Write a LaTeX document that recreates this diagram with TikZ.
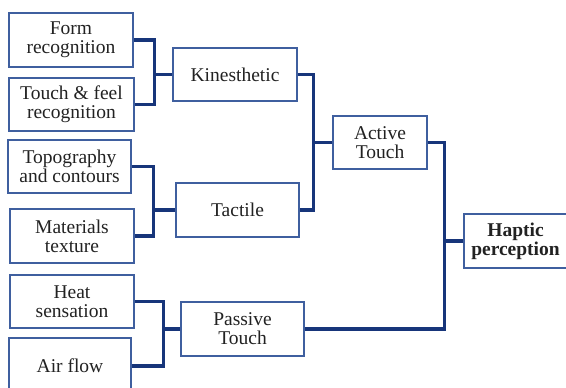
\documentclass[tikz,border=0pt]{standalone}
\usepackage{fontspec}
\setmainfont{Liberation Serif}
\usepackage{xcolor}
\definecolor{boxblue}{HTML}{3F5F9F}
\definecolor{linknavy}{HTML}{17357A}
\definecolor{txtgray}{HTML}{222222}

\begin{document}
\begin{tikzpicture}[x=1pt, y=-1pt,
  box/.style={draw=boxblue, line width=1.5pt, fill=white, align=center, inner sep=0pt,
    text=txtgray, font=\fontsize{19.5}{19}\selectfont},
  link/.style={draw=linknavy, line width=3.2pt}]
\useasboundingbox (0,0) rectangle (566,388);
% Hojas
\node[box, minimum width=124, minimum height=54] (form) at (71,40) {Form\\recognition};
\node[box, minimum width=125, minimum height=53] (feel) at (71.5,104.5) {Touch \& feel\\recognition};
\node[box, minimum width=123, minimum height=53] (topo) at (69.5,166.5) {Topography\\and contours};
\node[box, minimum width=124, minimum height=54] (mat) at (72,236) {Materials\\texture};
\node[box, minimum width=124, minimum height=53] (heat) at (72,301.5) {Heat\\sensation};
\node[box, minimum width=122, minimum height=56] (air) at (70,366) {Air flow};

% Nivel medio
\node[box, minimum width=124, minimum height=53] (kin) at (235,74.5) {Kinesthetic};
\node[box, minimum width=123, minimum height=54] (tac) at (237.5,210) {Tactile};
\node[box, minimum width=123, minimum height=54] (pas) at (242.5,329) {Passive\\Touch};
\node[box, minimum width=94, minimum height=53] (act) at (380,142.5) {Active\\Touch};
\node[box, minimum width=103, minimum height=54, font=\fontsize{19.5}{19}\selectfont\bfseries] (hap) at (515.5,241) {Haptic\\perception};

% Conexiones
\draw[link] (form.east) -| ([xshift=-18]kin.west) |- (feel.east);
\draw[link] (kin.west) -- ++(-18,0);
\draw[link] (topo.east) -| ([xshift=-22]tac.west) |- (mat.east);
\draw[link] (tac.west) -- ++(-22,0);
\draw[link] (heat.east) -| ([xshift=-17]pas.west) |- (air.east);
\draw[link] (pas.west) -- ++(-17,0);
\draw[link] (kin.east) -| ([xshift=-19]act.west) |- (tac.east);
\draw[link] (act.west) -- ++(-19,0);
\draw[link] (act.east) -| ([xshift=-19]hap.west) |- (pas.east);
\draw[link] (hap.west) -- ++(-19,0);
\end{tikzpicture}
\end{document}
